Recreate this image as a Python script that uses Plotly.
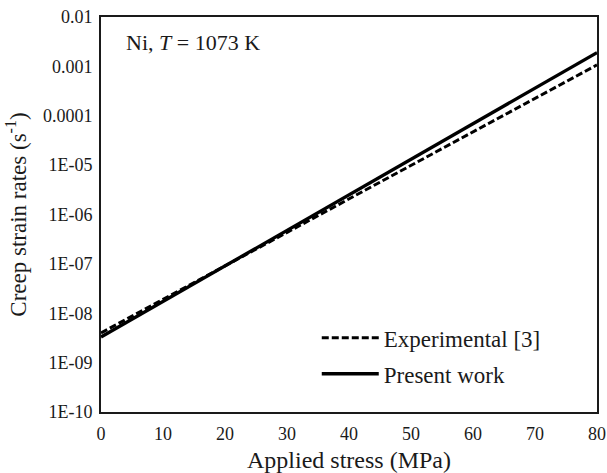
import plotly.graph_objects as go

stress = [0, 80]
experimental = [4.0e-9, 1.07e-3]
present = [3.3e-9, 1.9e-3]

ytick_vals = [1e-10, 1e-9, 1e-8, 1e-7, 1e-6, 1e-5, 1e-4, 1e-3, 1e-2]
ytick_text = ["1E-10", "1E-09", "1E-08", "1E-07", "1E-06", "1E-05", "0.0001", "0.001", "0.01"]
xtick_vals = [0, 10, 20, 30, 40, 50, 60, 70, 80]

FONT = "Liberation Serif, Times New Roman, Times, serif"
INK = "#1a1a1a"

fig = go.Figure()
fig.add_trace(go.Scatter(x=stress, y=experimental, mode="lines", name="Experimental [3]",
                         legendgroup="a",
                         line=dict(color="black", width=3, dash="7px,3px")))
fig.add_trace(go.Scatter(x=stress, y=present, mode="lines", name="Present work",
                         legendgroup="b",
                         line=dict(color="black", width=3.3)))

fig.update_layout(
    width=607, height=473,
    margin=dict(l=101, r=10, t=17, b=61),
    paper_bgcolor="white", plot_bgcolor="white",
    font=dict(family=FONT, color=INK, size=18),
    showlegend=True,
    legend=dict(x=0.435, y=0.142, xanchor="left", yanchor="middle",
                bgcolor="rgba(0,0,0,0)", font=dict(family=FONT, size=23, color=INK),
                itemwidth=57, tracegroupgap=3),
    annotations=[dict(text="Ni, <i>T</i> = 1073 K", x=0.046, y=0.935, xref="paper", yref="paper",
                      xanchor="left", yanchor="middle", showarrow=False,
                      font=dict(family=FONT, size=22, color=INK))],
)
fig.update_xaxes(range=[0, 80], tickvals=xtick_vals, showgrid=False, zeroline=False,
                 automargin=False,
                 showline=True, linecolor=INK, linewidth=2, mirror=True, ticks="",
                 ticklabelstandoff=4,
                 tickfont=dict(family=FONT, size=18, color=INK),
                 title=dict(text="Applied stress (MPa)", font=dict(family=FONT, size=24, color=INK),
                            standoff=12))
fig.update_yaxes(type="log", range=[-10, -2], tickvals=ytick_vals, ticktext=ytick_text,
                 showgrid=False, zeroline=False,
                 automargin=False,
                 showline=True, linecolor=INK, linewidth=2, mirror=True, ticks="",
                 ticklabelstandoff=3,
                 tickfont=dict(family=FONT, size=18, color=INK),
                 title=dict(text="Creep strain rates (s<sup>-1</sup>)",
                            font=dict(family=FONT, size=23, color=INK), standoff=10))

fig.write_html("out.html", config={"displayModeBar": False},
               post_script="document.body.style.margin='0';")
